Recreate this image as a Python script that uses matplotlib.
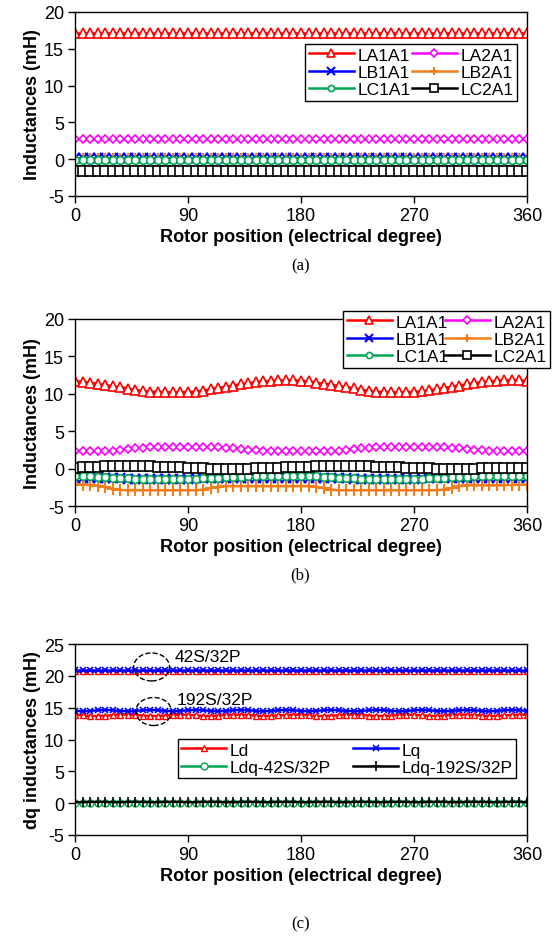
import numpy as np
import matplotlib
matplotlib.use("Agg")
import matplotlib.pyplot as plt
from matplotlib.patches import Ellipse

plt.rcParams['font.family'] = ['Liberation Sans', 'DejaVu Sans']
plt.rcParams['axes.unicode_minus'] = False

# rotor position, one sample every 6 electrical degrees
theta = np.arange(0, 361, 6)
xticks = [0, 90, 180, 270, 360]

# ---- (a) ----
la1a1_a = [17.2, 17.2, 17.2, 17.2, 17.2, 17.2, 17.2, 17.2, 17.2, 17.2, 17.2, 17.2, 17.2, 17.2, 17.2, 17.2,
           17.2, 17.2, 17.2, 17.2, 17.2, 17.2, 17.2, 17.2, 17.2, 17.2, 17.2, 17.2, 17.2, 17.2, 17.2, 17.2,
           17.2, 17.2, 17.2, 17.2, 17.2, 17.2, 17.2, 17.2, 17.2, 17.2, 17.2, 17.2, 17.2, 17.2, 17.2, 17.2,
           17.2, 17.2, 17.2, 17.2, 17.2, 17.2, 17.2, 17.2, 17.2, 17.2, 17.2, 17.2, 17.2]
la2a1_a = [2.7, 2.7, 2.7, 2.7, 2.7, 2.7, 2.7, 2.7, 2.7, 2.7, 2.7, 2.7, 2.7, 2.7, 2.7, 2.7,
           2.7, 2.7, 2.7, 2.7, 2.7, 2.7, 2.7, 2.7, 2.7, 2.7, 2.7, 2.7, 2.7, 2.7, 2.7, 2.7,
           2.7, 2.7, 2.7, 2.7, 2.7, 2.7, 2.7, 2.7, 2.7, 2.7, 2.7, 2.7, 2.7, 2.7, 2.7, 2.7,
           2.7, 2.7, 2.7, 2.7, 2.7, 2.7, 2.7, 2.7, 2.7, 2.7, 2.7, 2.7, 2.7]
lb1a1_a = [0.1, 0.1, 0.1, 0.1, 0.1, 0.1, 0.1, 0.1, 0.1, 0.1, 0.1, 0.1, 0.1, 0.1, 0.1, 0.1,
           0.1, 0.1, 0.1, 0.1, 0.1, 0.1, 0.1, 0.1, 0.1, 0.1, 0.1, 0.1, 0.1, 0.1, 0.1, 0.1,
           0.1, 0.1, 0.1, 0.1, 0.1, 0.1, 0.1, 0.1, 0.1, 0.1, 0.1, 0.1, 0.1, 0.1, 0.1, 0.1,
           0.1, 0.1, 0.1, 0.1, 0.1, 0.1, 0.1, 0.1, 0.1, 0.1, 0.1, 0.1, 0.1]
lb2a1_a = [0.0, 0.0, 0.0, 0.0, 0.0, 0.0, 0.0, 0.0, 0.0, 0.0, 0.0, 0.0, 0.0, 0.0, 0.0, 0.0,
           0.0, 0.0, 0.0, 0.0, 0.0, 0.0, 0.0, 0.0, 0.0, 0.0, 0.0, 0.0, 0.0, 0.0, 0.0, 0.0,
           0.0, 0.0, 0.0, 0.0, 0.0, 0.0, 0.0, 0.0, 0.0, 0.0, 0.0, 0.0, 0.0, 0.0, 0.0, 0.0,
           0.0, 0.0, 0.0, 0.0, 0.0, 0.0, 0.0, 0.0, 0.0, 0.0, 0.0, 0.0, 0.0]
lc1a1_a = [-0.05, -0.05, -0.05, -0.05, -0.05, -0.05, -0.05, -0.05, -0.05, -0.05, -0.05, -0.05, -0.05, -0.05, -0.05, -0.05,
           -0.05, -0.05, -0.05, -0.05, -0.05, -0.05, -0.05, -0.05, -0.05, -0.05, -0.05, -0.05, -0.05, -0.05, -0.05, -0.05,
           -0.05, -0.05, -0.05, -0.05, -0.05, -0.05, -0.05, -0.05, -0.05, -0.05, -0.05, -0.05, -0.05, -0.05, -0.05, -0.05,
           -0.05, -0.05, -0.05, -0.05, -0.05, -0.05, -0.05, -0.05, -0.05, -0.05, -0.05, -0.05, -0.05]
lc2a1_a = [-1.6, -1.6, -1.6, -1.6, -1.6, -1.6, -1.6, -1.6, -1.6, -1.6, -1.6, -1.6, -1.6, -1.6, -1.6, -1.6,
           -1.6, -1.6, -1.6, -1.6, -1.6, -1.6, -1.6, -1.6, -1.6, -1.6, -1.6, -1.6, -1.6, -1.6, -1.6, -1.6,
           -1.6, -1.6, -1.6, -1.6, -1.6, -1.6, -1.6, -1.6, -1.6, -1.6, -1.6, -1.6, -1.6, -1.6, -1.6, -1.6,
           -1.6, -1.6, -1.6, -1.6, -1.6, -1.6, -1.6, -1.6, -1.6, -1.6, -1.6, -1.6, -1.6]

# ---- (b) ----
la1a1_b = [11.7, 11.6, 11.5, 11.3, 11.2, 11.0, 10.9, 10.7, 10.5, 10.4, 10.3, 10.25, 10.2, 10.2, 10.2, 10.25,
           10.3, 10.4, 10.6, 10.8, 10.9, 11.1, 11.3, 11.4, 11.55, 11.65, 11.75, 11.8, 11.8, 11.8, 11.75,
           11.65, 11.5, 11.35, 11.2, 11.05, 10.9, 10.75, 10.55, 10.4, 10.3, 10.25, 10.2, 10.2, 10.2, 10.25,
           10.35, 10.45, 10.6, 10.8, 10.95, 11.1, 11.3, 11.45, 11.55, 11.65, 11.75, 11.8, 11.8, 11.8, 11.7]
la2a1_b = [2.3, 2.3, 2.3, 2.3, 2.3, 2.35, 2.45, 2.6, 2.7, 2.8, 2.85, 2.9, 2.9, 2.9, 2.9, 2.9,
           2.9, 2.9, 2.85, 2.85, 2.8, 2.75, 2.65, 2.55, 2.45, 2.4, 2.35, 2.3, 2.3, 2.3, 2.3,
           2.3, 2.3, 2.3, 2.3, 2.35, 2.45, 2.6, 2.7, 2.8, 2.85, 2.9, 2.9, 2.9, 2.9, 2.9,
           2.9, 2.9, 2.85, 2.85, 2.8, 2.75, 2.65, 2.55, 2.45, 2.4, 2.35, 2.3, 2.3, 2.3, 2.3]
lb1a1_b = [-1.2, -1.2, -1.22, -1.25, -1.27, -1.3, -1.32, -1.33, -1.35, -1.35, -1.35, -1.35, -1.35, -1.35, -1.35, -1.33,
           -1.32, -1.3, -1.28, -1.25, -1.23, -1.22, -1.2, -1.2, -1.2, -1.2, -1.2, -1.2, -1.2, -1.2, -1.2,
           -1.2, -1.22, -1.25, -1.27, -1.3, -1.32, -1.33, -1.35, -1.35, -1.35, -1.35, -1.35, -1.35, -1.35, -1.33,
           -1.32, -1.3, -1.28, -1.25, -1.23, -1.22, -1.2, -1.2, -1.2, -1.2, -1.2, -1.2, -1.2, -1.2, -1.2]
lb2a1_b = [-2.1, -2.15, -2.2, -2.3, -2.5, -2.75, -2.85, -2.9, -2.9, -2.9, -2.9, -2.9, -2.9, -2.9, -2.9, -2.9,
           -2.9, -2.8, -2.6, -2.45, -2.35, -2.35, -2.35, -2.35, -2.35, -2.35, -2.35, -2.35, -2.35, -2.35, -2.35,
           -2.35, -2.45, -2.6, -2.8, -2.9, -2.9, -2.9, -2.9, -2.9, -2.9, -2.9, -2.9, -2.9, -2.9, -2.9,
           -2.9, -2.9, -2.9, -2.8, -2.6, -2.35, -2.25, -2.25, -2.25, -2.25, -2.25, -2.2, -2.2, -2.15, -2.15]
lc1a1_b = [-1.0, -1.02, -1.05, -1.1, -1.15, -1.2, -1.25, -1.3, -1.33, -1.35, -1.37, -1.38, -1.38, -1.38, -1.37, -1.35,
           -1.33, -1.3, -1.25, -1.2, -1.15, -1.1, -1.06, -1.03, -1.0, -1.0, -1.0, -1.0, -1.0, -1.0, -1.0,
           -1.02, -1.05, -1.1, -1.15, -1.2, -1.25, -1.3, -1.33, -1.35, -1.37, -1.38, -1.38, -1.38, -1.37, -1.35,
           -1.33, -1.3, -1.25, -1.2, -1.15, -1.1, -1.06, -1.03, -1.0, -1.0, -1.0, -1.0, -1.0, -1.0, -1.0]
lc2a1_b = [0.1, 0.15, 0.2, 0.25, 0.3, 0.3, 0.35, 0.35, 0.35, 0.3, 0.3, 0.25, 0.2, 0.2, 0.15, 0.1,
           0.05, 0.05, 0.0, 0.0, 0.0, 0.0, 0.0, 0.0, 0.05, 0.05, 0.1, 0.1, 0.15, 0.15, 0.2,
           0.25, 0.3, 0.3, 0.35, 0.35, 0.35, 0.35, 0.3, 0.3, 0.25, 0.2, 0.2, 0.15, 0.1, 0.1,
           0.05, 0.05, 0.0, 0.0, 0.0, 0.0, 0.0, 0.0, 0.05, 0.05, 0.1, 0.1, 0.1, 0.1, 0.1]

# ---- (c) ----
ld_42 = [20.7, 20.7, 20.7, 20.7, 20.7, 20.7, 20.7, 20.7, 20.7, 20.7, 20.7, 20.7, 20.7, 20.7, 20.7, 20.7,
         20.7, 20.7, 20.7, 20.7, 20.7, 20.7, 20.7, 20.7, 20.7, 20.7, 20.7, 20.7, 20.7, 20.7, 20.7,
         20.7, 20.7, 20.7, 20.7, 20.7, 20.7, 20.7, 20.7, 20.7, 20.7, 20.7, 20.7, 20.7, 20.7, 20.7,
         20.7, 20.7, 20.7, 20.7, 20.7, 20.7, 20.7, 20.7, 20.7, 20.7, 20.7, 20.7, 20.7, 20.7, 20.7]
lq_42 = [20.95, 20.95, 20.95, 20.95, 20.95, 20.95, 20.95, 20.95, 20.95, 20.95, 20.95, 20.95, 20.95, 20.95, 20.95, 20.95,
         20.95, 20.95, 20.95, 20.95, 20.95, 20.95, 20.95, 20.95, 20.95, 20.95, 20.95, 20.95, 20.95, 20.95, 20.95,
         20.95, 20.95, 20.95, 20.95, 20.95, 20.95, 20.95, 20.95, 20.95, 20.95, 20.95, 20.95, 20.95, 20.95, 20.95,
         20.95, 20.95, 20.95, 20.95, 20.95, 20.95, 20.95, 20.95, 20.95, 20.95, 20.95, 20.95, 20.95, 20.95, 20.95]
ld_192 = [13.9, 13.8, 13.7, 13.7, 13.75, 13.8, 13.9, 13.9, 13.85, 13.75, 13.7, 13.7, 13.75, 13.85, 13.9, 13.9,
          13.8, 13.7, 13.7, 13.75, 13.85, 13.9, 13.9, 13.85, 13.75, 13.7, 13.7, 13.8, 13.85, 13.9, 13.9,
          13.8, 13.7, 13.7, 13.75, 13.8, 13.9, 13.9, 13.85, 13.75, 13.7, 13.7, 13.75, 13.85, 13.9, 13.9,
          13.8, 13.7, 13.7, 13.75, 13.85, 13.9, 13.9, 13.85, 13.75, 13.7, 13.7, 13.8, 13.85, 13.9, 13.9]
lq_192 = [14.5, 14.45, 14.5, 14.6, 14.65, 14.6, 14.5, 14.45, 14.5, 14.6, 14.65, 14.6, 14.5, 14.45, 14.5, 14.6,
          14.65, 14.6, 14.5, 14.45, 14.5, 14.6, 14.65, 14.6, 14.5, 14.45, 14.5, 14.6, 14.65, 14.6, 14.5,
          14.45, 14.5, 14.6, 14.65, 14.6, 14.5, 14.45, 14.5, 14.6, 14.65, 14.6, 14.5, 14.45, 14.5, 14.6,
          14.65, 14.6, 14.5, 14.45, 14.5, 14.6, 14.65, 14.6, 14.5, 14.45, 14.5, 14.6, 14.65, 14.6, 14.5]
ldq_42 = [0.0, 0.0, 0.0, 0.0, 0.0, 0.0, 0.0, 0.0, 0.0, 0.0, 0.0, 0.0, 0.0, 0.0, 0.0, 0.0,
          0.0, 0.0, 0.0, 0.0, 0.0, 0.0, 0.0, 0.0, 0.0, 0.0, 0.0, 0.0, 0.0, 0.0, 0.0,
          0.0, 0.0, 0.0, 0.0, 0.0, 0.0, 0.0, 0.0, 0.0, 0.0, 0.0, 0.0, 0.0, 0.0, 0.0,
          0.0, 0.0, 0.0, 0.0, 0.0, 0.0, 0.0, 0.0, 0.0, 0.0, 0.0, 0.0, 0.0, 0.0, 0.0]
ldq_192 = [0.15, 0.15, 0.2, 0.2, 0.2, 0.15, 0.15, 0.2, 0.2, 0.2, 0.15, 0.15, 0.2, 0.2, 0.2, 0.15,
           0.15, 0.2, 0.2, 0.2, 0.15, 0.15, 0.2, 0.2, 0.2, 0.15, 0.15, 0.2, 0.2, 0.2, 0.15,
           0.15, 0.2, 0.2, 0.2, 0.15, 0.15, 0.2, 0.2, 0.2, 0.15, 0.15, 0.2, 0.2, 0.2, 0.15,
           0.15, 0.2, 0.2, 0.2, 0.15, 0.15, 0.2, 0.2, 0.2, 0.15, 0.15, 0.2, 0.2, 0.2, 0.15]

RED, MAG, BLUE, ORG, GRN, BLK = '#FF0000', '#FF00FF', '#0000FF', '#F07F1A', '#00A651', '#000000'

phase_style = [
    ('LA1A1', RED, dict(marker='^', ms=7, mfc='white', mew=1.2)),
    ('LA2A1', MAG, dict(marker='D', ms=4.5, mfc='white', mew=1.2)),
    ('LB1A1', BLUE, dict(marker='x', ms=6.5, mew=1.5)),
    ('LB2A1', ORG, dict(marker='+', ms=8, mew=1.5)),
    ('LC1A1', GRN, dict(marker='o', ms=5.5, mfc='white', mew=1.2)),
    ('LC2A1', BLK, dict(marker='s', ms=6.5, mfc='white', mew=1.2)),
]

fig = plt.figure(figsize=(5.59, 9.37), dpi=100)
ax_a = fig.add_axes([0.1342, 0.7898, 0.8086, 0.1964])
ax_b = fig.add_axes([0.1342, 0.4589, 0.8086, 0.1996])
ax_c = fig.add_axes([0.1342, 0.1078, 0.8086, 0.2038])


def style_axes(ax, ylim, ylabel):
    ax.set_xlim(0, 360)
    ax.set_ylim(*ylim)
    ax.set_xticks(xticks)
    ax.set_yticks(np.arange(ylim[0], ylim[1] + 1, 5))
    ax.tick_params(direction='out', length=5, width=1, labelsize=13, pad=3, top=False, right=False)
    ax.set_xlabel('Rotor position (electrical degree)', fontsize=13, fontweight='bold', labelpad=3)
    ax.set_ylabel(ylabel, fontsize=13, fontweight='bold', labelpad=2)
    for s in ax.spines.values():
        s.set_linewidth(1)


def phase_plot(ax, series, legend_box):
    lines = []
    for (name, col, kw), vals in zip(phase_style, series):
        ln, = ax.plot(theta, vals, color=col, lw=1.8, mec=col, label=name, **kw)
        lines.append(ln)
    order = [0, 2, 4, 1, 3, 5]
    leg = ax.legend([lines[i] for i in order], [lines[i].get_label() for i in order],
                    ncol=2, loc='upper left', bbox_to_anchor=legend_box, mode='expand',
                    fontsize=12.5, frameon=True, fancybox=False, edgecolor='black',
                    framealpha=1, borderpad=0.2, labelspacing=0.12, handlelength=2.6,
                    handletextpad=0.2, columnspacing=0.8, borderaxespad=0, markerscale=0.8)
    leg.get_frame().set_linewidth(1)


phase_plot(ax_a, [la1a1_a, la2a1_a, lb1a1_a, lb2a1_a, lc1a1_a, lc2a1_a], (0.509, 0.826, 0.469, 0))
style_axes(ax_a, (-5, 20), 'Inductances (mH)')

phase_plot(ax_b, [la1a1_b, la2a1_b, lb1a1_b, lb2a1_b, lc1a1_b, lc2a1_b], (0.593, 1.043, 0.458, 0))
style_axes(ax_b, (-5, 20), 'Inductances (mH)')

# (c) dq inductances
ld1, = ax_c.plot(theta, ld_42, color=RED, lw=1.8, marker='^', ms=5, mfc='white', mec=RED, label='Ld')
lq1, = ax_c.plot(theta, lq_42, color=BLUE, lw=1.8, marker='x', ms=5, mew=1.2, label='Lq')
ax_c.plot(theta, ld_192, color=RED, lw=1.8, marker='^', ms=5, mfc='white', mec=RED)
ax_c.plot(theta, lq_192, color=BLUE, lw=1.8, marker='x', ms=5, mew=1.2)
g1, = ax_c.plot(theta, ldq_42, color=GRN, lw=1.8, marker='o', ms=5, mfc='white', mec=GRN, label='Ldq-42S/32P')
k1, = ax_c.plot(theta, ldq_192, color=BLK, lw=1.8, marker='+', ms=7, mew=1.2, label='Ldq-192S/32P')
leg = ax_c.legend([ld1, g1, lq1, k1], ['Ld', 'Ldq-42S/32P', 'Lq', 'Ldq-192S/32P'],
                  ncol=2, loc='upper left', bbox_to_anchor=(0.227, 0.503, 0.749, 0), mode='expand',
                  fontsize=12.5, frameon=True, fancybox=False, edgecolor='black', framealpha=1,
                  borderpad=0.2, labelspacing=0.12, handlelength=2.6, handletextpad=0.2,
                  columnspacing=0.8, borderaxespad=0)
leg.get_frame().set_linewidth(1)

ax_c.add_patch(Ellipse((61, 21.4), 28.5, 4.4, fill=False, ls='--', ec='k', lw=1, zorder=5))
ax_c.add_patch(Ellipse((62.6, 14.4), 28.5, 4.4, fill=False, ls='--', ec='k', lw=1, zorder=5))
ax_c.text(79, 23.1, '42S/32P', fontsize=12.5, va='center', ha='left')
ax_c.text(81, 16.35, '192S/32P', fontsize=12.5, va='center', ha='left')
style_axes(ax_c, (-5, 25), 'dq inductances (mH)')

for lab, yy in [('(a)', 0.716), ('(b)', 0.3863), ('(c)', 0.0139)]:
    fig.text(0.537, yy, lab, family='Liberation Serif', fontsize=12, ha='center', va='center')

fig.savefig('out.png', dpi=100)
